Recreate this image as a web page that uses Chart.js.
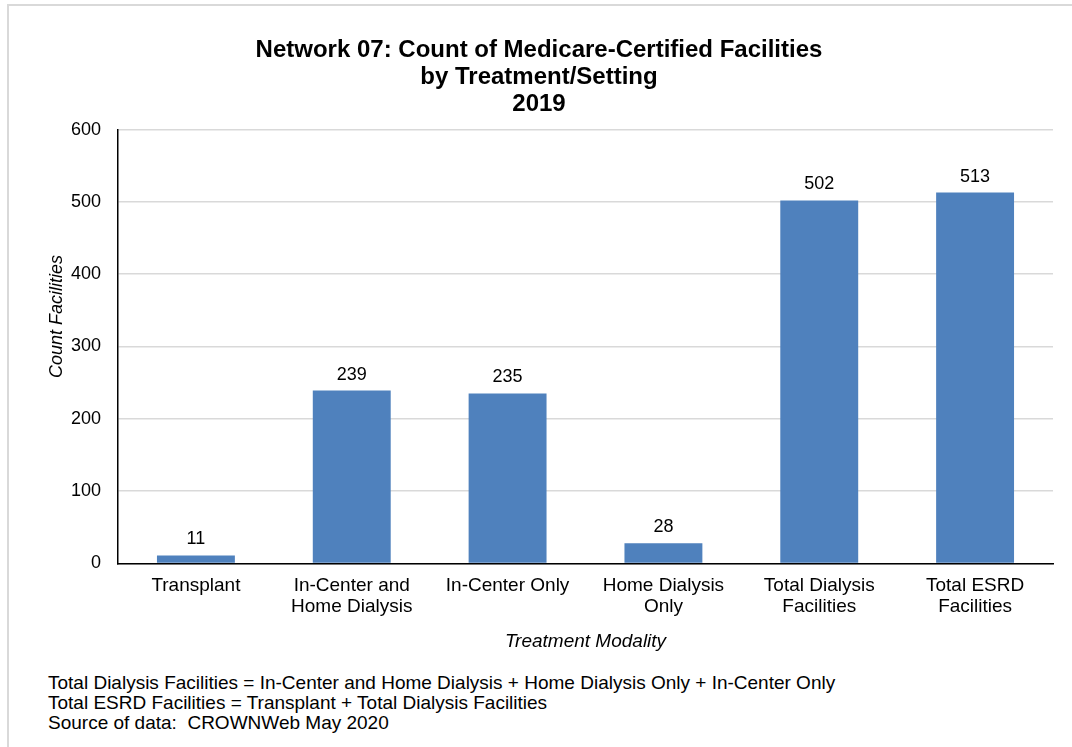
<!DOCTYPE html>
<html>
<head>
<meta charset="utf-8">
<script src="https://cdn.jsdelivr.net/npm/chart.js@4/dist/chart.umd.min.js"></script>
<style>
  body { margin: 0; background: #fff; font-family: "Liberation Sans", Arial, sans-serif; }
  #frame { position: absolute; left: 7px; top: 4px; width: 1080px; height: 760px;
           border-left: 2px solid #d9d9d9; border-top: 2px solid #d9d9d9; }
  #wrap { position: absolute; left: 9px; top: 6px; width: 1063px; height: 655px; }
  #notes { position: absolute; left: 48px; top: 673px; font-size: 19px; line-height: 20px; color: #000; }
</style>
</head>
<body>
<div id="frame"></div>
<div id="wrap"><canvas id="chart"></canvas></div>
<div id="notes">
  <div>Total Dialysis Facilities = In-Center and Home Dialysis + Home Dialysis Only + In-Center Only</div>
  <div>Total ESRD Facilities = Transplant + Total Dialysis Facilities</div>
  <div>Source of data:&nbsp; CROWNWeb May 2020</div>
</div>
<script>
const categories = [
  'Transplant',
  ['In-Center and', 'Home Dialysis'],
  'In-Center Only',
  ['Home Dialysis', 'Only'],
  ['Total Dialysis', 'Facilities'],
  ['Total ESRD', 'Facilities']
];
const facilityCounts = [11, 239, 235, 28, 502, 513];
const yTicks = [0, 100, 200, 300, 400, 500, 600];

const FONT = '"Liberation Sans", Arial, sans-serif';

// value labels above each bar
const barLabels = {
  id: 'barLabels',
  afterDatasetsDraw(chart) {
    const ctx = chart.ctx;
    const meta = chart.getDatasetMeta(0);
    ctx.save();
    ctx.font = '18px ' + FONT;
    ctx.fillStyle = '#000';
    ctx.textAlign = 'center';
    ctx.textBaseline = 'bottom';
    meta.data.forEach((bar, i) => {
      ctx.fillText(String(facilityCounts[i]), bar.x, bar.y - 7);
    });
    ctx.restore();
  }
};

new Chart(document.getElementById('chart'), {
  type: 'bar',
  data: {
    labels: categories,
    datasets: [{
      data: facilityCounts,
      backgroundColor: '#4f81bd',
      barPercentage: 0.5,
      categoryPercentage: 1
    }]
  },
  options: {
    responsive: true,
    maintainAspectRatio: false,
    animation: false,
    layout: { padding: { left: 16, right: 19, top: 31, bottom: 8 } },
    plugins: {
      legend: { display: false },
      tooltip: { enabled: false },
      title: {
        display: true,
        text: ['Network 07: Count of Medicare-Certified Facilities', 'by Treatment/Setting', '2019'],
        color: '#000',
        font: { family: FONT, size: 24, weight: 'bold', lineHeight: 1.12 },
        padding: { top: 0, bottom: 12 }
      }
    },
    scales: {
      x: {
        grid: { display: false, drawTicks: false },
        border: { display: true, color: '#000', width: 1.5 },
        ticks: {
          color: '#000',
          padding: 12,
          maxRotation: 0,
          autoSkip: false,
          font: { family: FONT, size: 19, lineHeight: 1.1 }
        },
        title: {
          display: true,
          text: 'Treatment Modality',
          color: '#000',
          font: { family: FONT, size: 19, style: 'italic' },
          padding: { top: 1, bottom: 0 }
        }
      },
      y: {
        min: 0,
        max: 600,
        afterBuildTicks(axis) {
          axis.ticks = yTicks.map(v => ({ value: v }));
        },
        afterFit(axis) {
          axis.width = 93;
        },
        grid: { color: '#d9d9d9', lineWidth: 1.5, drawTicks: false },
        border: { display: true, color: '#000', width: 1.5 },
        ticks: {
          color: '#000',
          padding: 17,
          font: { family: FONT, size: 18 }
        },
        title: {
          display: true,
          text: '            Count Facilities',
          color: '#000',
          font: { family: FONT, size: 18, style: 'italic' },
          padding: { top: 21, bottom: 0 }
        }
      }
    }
  },
  plugins: [barLabels]
});
</script>
</body>
</html>
